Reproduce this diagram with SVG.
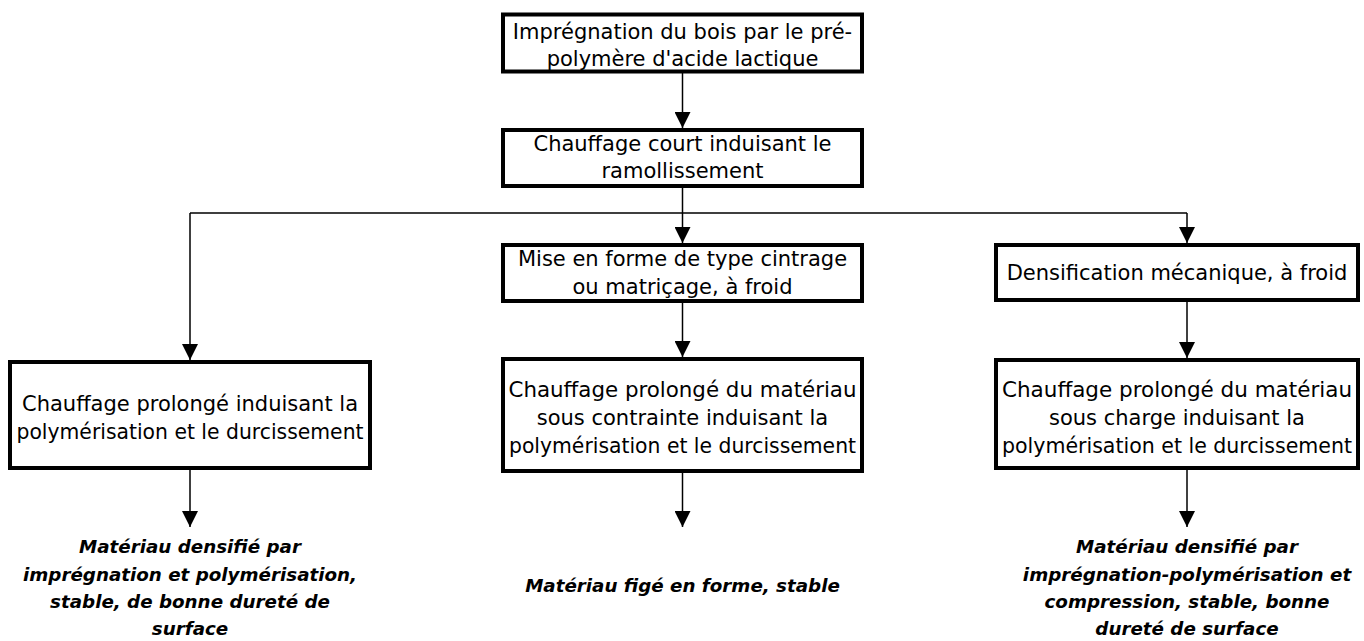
<svg xmlns="http://www.w3.org/2000/svg" width="1364" height="641" viewBox="0 0 1364 641">
<defs>
<style>
.box{fill:#fff;stroke:#000;stroke-width:4}
.lbl{font-family:"DejaVu Sans","Noto Sans",sans-serif;font-size:21px;fill:#000;text-anchor:middle}
.out{font-family:"DejaVu Sans","Noto Sans",sans-serif;font-size:18.3px;font-weight:bold;font-style:italic;fill:#000;text-anchor:middle}
.con{fill:none;stroke:#000;stroke-width:1.5}
</style>
<marker id="ah" markerUnits="userSpaceOnUse" markerWidth="16" markerHeight="16" refX="16" refY="8" orient="auto">
<path d="M0,0 L16,8 L0,16 z" fill="#000"/>
</marker>
</defs>
<rect width="1364" height="641" fill="#fff"/>
<g id="connectors">
<path class="con" d="M682.5,73 V128" marker-end="url(#ah)"/>
<path class="con" d="M682.5,186 V213 M190,213 H1187"/>
<path class="con" d="M190,213 V360" marker-end="url(#ah)"/>
<path class="con" d="M682.5,213 V243" marker-end="url(#ah)"/>
<path class="con" d="M1187,213 V243" marker-end="url(#ah)"/>
<path class="con" d="M682.5,303 V357" marker-end="url(#ah)"/>
<path class="con" d="M1187,302 V358" marker-end="url(#ah)"/>
<path class="con" d="M190,470 V527" marker-end="url(#ah)"/>
<path class="con" d="M682.5,473 V527" marker-end="url(#ah)"/>
<path class="con" d="M1187,470 V527" marker-end="url(#ah)"/>
</g>
<g id="n1">
<rect class="box" x="503" y="14.5" width="359" height="57"/>
<text class="lbl" x="682.5" y="38.5">Imprégnation du bois par le pré-</text>
<text class="lbl" x="682.5" y="65.5">polymère d'acide lactique</text>
</g>
<g id="n2">
<rect class="box" x="503" y="130" width="359" height="56"/>
<text class="lbl" x="682.5" y="150.5">Chauffage court induisant le</text>
<text class="lbl" x="682.5" y="177.5">ramollissement</text>
</g>
<g id="n3">
<rect class="box" x="503" y="245" width="359" height="56"/>
<text class="lbl" x="682.5" y="266">Mise en forme de type cintrage</text>
<text class="lbl" x="682.5" y="294">ou matriçage, à froid</text>
</g>
<g id="n4">
<rect class="box" x="996" y="245" width="362" height="55"/>
<text class="lbl" x="1177" y="280">Densification mécanique, à froid</text>
</g>
<g id="n5">
<rect class="box" x="10" y="362" width="360" height="106"/>
<text class="lbl" x="190" y="411">Chauffage prolongé induisant la</text>
<text class="lbl" x="190" y="439" textLength="347" lengthAdjust="spacingAndGlyphs">polymérisation et le durcissement</text>
</g>
<g id="n6">
<rect class="box" x="503" y="359" width="359" height="112"/>
<text class="lbl" x="682.5" y="397" textLength="348" lengthAdjust="spacingAndGlyphs">Chauffage prolongé du matériau</text>
<text class="lbl" x="682.5" y="425">sous contrainte induisant la</text>
<text class="lbl" x="682.5" y="453" textLength="347" lengthAdjust="spacingAndGlyphs">polymérisation et le durcissement</text>
</g>
<g id="n7">
<rect class="box" x="996" y="360" width="362" height="108"/>
<text class="lbl" x="1177" y="397" textLength="350" lengthAdjust="spacingAndGlyphs">Chauffage prolongé du matériau</text>
<text class="lbl" x="1177" y="425">sous charge induisant la</text>
<text class="lbl" x="1177" y="453" textLength="350" lengthAdjust="spacingAndGlyphs">polymérisation et le durcissement</text>
</g>
<g id="r1">
<text class="out" x="190" y="553">Matériau densifié par</text>
<text class="out" x="190" y="581">imprégnation et polymérisation,</text>
<text class="out" x="190" y="608">stable, de bonne dureté de</text>
<text class="out" x="190" y="635">surface</text>
</g>
<g id="r2">
<text class="out" x="682.5" y="592">Matériau figé en forme, stable</text>
</g>
<g id="r3">
<text class="out" x="1187" y="553">Matériau densifié par</text>
<text class="out" x="1187" y="581">imprégnation-polymérisation et</text>
<text class="out" x="1187" y="608">compression, stable, bonne</text>
<text class="out" x="1187" y="635">dureté de surface</text>
</g>
</svg>
